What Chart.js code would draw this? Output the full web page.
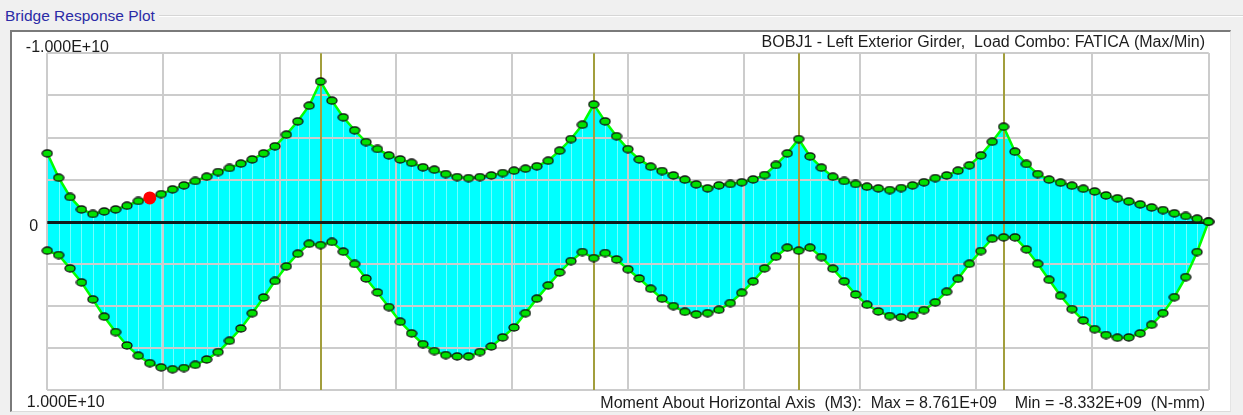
<!DOCTYPE html>
<html>
<head>
<meta charset="utf-8">
<title>Bridge Response Plot</title>
<script src="https://cdn.jsdelivr.net/npm/chart.js@4"></script>
<style>
  body { margin: 0; background: #f0f0f0; width: 1243px; height: 415px; overflow: hidden; position: relative;
         font-family: "Liberation Sans", Arial, sans-serif; }
  #groupLine { position: absolute; left: 4px; right: 0; top: 15px; height: 1px; background: #d6d6d6; border-bottom: 1px solid #fff; }
  #groupTitle { position: absolute; left: 5px; top: 7px; font-size: 15.5px; color: #2b2ba6; background: #f0f0f0; padding-right: 4px; }
  #panel { position: absolute; left: 10px; top: 30px; width: 1218px; height: 379px; background: #fff;
           border-top: 2px solid #7a7a7a; border-left: 2px solid #7a7a7a; border-right: 1px solid #e4e4e4; border-bottom: 1px solid #dcdcdc; }
  #plot { position: absolute; left: 12px; top: 32px; }
</style>
</head>
<body>
<div id="groupLine"></div>
<div id="groupTitle">Bridge Response Plot</div>
<div id="panel"></div>
<canvas id="plot" width="1218" height="383"></canvas>

<script>
// moment envelope along the girder, one value per station, units of 1E+09 N-mm
// (negative moments are drawn upwards, the y axis runs from -1E+10 at top to 1E+10 at bottom)
const minMoment = [
  -4.06, -2.61, -1.47, -0.73, -0.46, -0.61, -0.73, -0.95, -1.23, -1.41,
  -1.64, -1.92, -2.16, -2.42, -2.67, -2.95, -3.19, -3.45, -3.70, -4.06,
  -4.48, -5.17, -5.96, -6.89, -8.332, -7.19, -6.20, -5.43, -4.73, -4.32,
  -3.94, -3.70, -3.50, -3.23, -3.09, -2.83, -2.65, -2.59, -2.65, -2.75,
  -2.89, -3.03, -3.15, -3.29, -3.62, -4.22, -4.91, -5.76, -6.97, -5.96,
  -5.08, -4.31, -3.70, -3.27, -3.01, -2.75, -2.50, -2.22, -1.98, -2.16,
  -2.24, -2.34, -2.51, -2.77, -3.37, -4.06, -4.91, -3.88, -3.21, -2.67,
  -2.42, -2.24, -2.08, -1.98, -1.88, -2.00, -2.16, -2.34, -2.59, -2.75,
  -3.03, -3.35, -3.94, -4.75, -5.64, -4.16, -3.43, -2.83, -2.50, -2.32,
  -2.14, -1.96, -1.80, -1.56, -1.39, -1.21, -1.03, -0.85, -0.69, -0.50,
  -0.34, -0.18, 0
];
const maxMoment = [
  1.72, 1.98, 2.77, 3.60, 4.61, 5.64, 6.55, 7.35, 7.96, 8.40,
  8.65, 8.761, 8.69, 8.50, 8.18, 7.74, 7.07, 6.34, 5.43, 4.50,
  3.52, 2.65, 1.90, 1.31, 1.39, 1.20, 1.78, 2.51, 3.37, 4.20,
  5.07, 5.94, 6.63, 7.27, 7.68, 7.92, 8.00, 8.00, 7.74, 7.41,
  6.87, 6.28, 5.43, 4.57, 3.78, 3.01, 2.34, 1.80, 2.16, 1.86,
  2.24, 2.82, 3.37, 3.98, 4.57, 5.01, 5.35, 5.50, 5.43, 5.23,
  4.83, 4.22, 3.54, 2.77, 2.08, 1.54, 1.72, 1.54, 2.10, 2.79,
  3.54, 4.32, 4.93, 5.33, 5.60, 5.68, 5.58, 5.25, 4.79, 4.16,
  3.39, 2.50, 1.74, 1.01, 0.93, 0.93, 1.64, 2.50, 3.45, 4.40,
  5.19, 5.86, 6.38, 6.73, 6.89, 6.87, 6.63, 6.12, 5.43, 4.48,
  3.29, 1.80, 0
];
const stations = minMoment.map((v, i) => i);   // station index, 0 = left end
const supports = [24, 48, 66, 84];              // interior supports (station index)
const selectedStation = 9;                      // red marker on the negative curve
const xDivisions = 10;
const yTickValues = [-10, 0, 10];
const yTickLabels = ['-1.000E+10', '0', '1.000E+10'];
const titleText = 'BOBJ1 - Left Exterior Girder,  Load Combo: FATICA (Max/Min)';
const footerText = 'Moment About Horizontal Axis  (M3):  Max = 8.761E+09    Min = -8.332E+09  (N-mm)';

const gridColor = '#cccccc';
const textFont = '16px "Liberation Sans", Arial, sans-serif';

// oval green marker with black outline
function makeDot() {
  const c = document.createElement('canvas');
  c.width = 12; c.height = 9;
  const g = c.getContext('2d');
  g.beginPath();
  g.ellipse(6, 4.5, 5, 3.5, 0, 0, Math.PI * 2);
  g.fillStyle = '#00e000';
  g.fill();
  g.lineWidth = 1.3;
  g.strokeStyle = '#101010';
  g.stroke();
  return c;
}
const dot = makeDot();

const decor = {
  id: 'decor',
  beforeDatasetsDraw(chart) {
    const {ctx, chartArea: a, scales: {x, y}} = chart;
    ctx.save();
    // faint station lines inside the filled envelope
    ctx.strokeStyle = 'rgba(255,255,255,0.45)';
    ctx.lineWidth = 1;
    stations.forEach((s, i) => {
      const px = Math.round(x.getPixelForValue(s)) + 0.5;
      ctx.beginPath();
      ctx.moveTo(px, y.getPixelForValue(minMoment[i]));
      ctx.lineTo(px, y.getPixelForValue(maxMoment[i]));
      ctx.stroke();
    });
    // grid over the fill
    ctx.strokeStyle = gridColor;
    ctx.lineWidth = 2;
    x.ticks.forEach(t => {
      const px = Math.round(x.getPixelForValue(t.value));
      ctx.beginPath(); ctx.moveTo(px, a.top); ctx.lineTo(px, a.bottom); ctx.stroke();
    });
    y.ticks.forEach(t => {
      const py = Math.round(y.getPixelForValue(t.value));
      ctx.beginPath(); ctx.moveTo(a.left, py); ctx.lineTo(a.right, py); ctx.stroke();
    });
    // supports
    ctx.strokeStyle = '#a29e3c';
    supports.forEach(s => {
      const px = Math.round(x.getPixelForValue(s));
      ctx.beginPath(); ctx.moveTo(px, a.top); ctx.lineTo(px, a.bottom); ctx.stroke();
    });
    // zero line
    const y0 = Math.round(y.getPixelForValue(0)) + 0.5;
    ctx.strokeStyle = '#0e1c1c';
    ctx.lineWidth = 3;
    ctx.beginPath(); ctx.moveTo(a.left, y0); ctx.lineTo(a.right, y0); ctx.stroke();
    ctx.restore();
  },
  afterDraw(chart) {
    const {ctx, chartArea: a, scales: {y}} = chart;
    ctx.save();
    ctx.font = textFont;
    ctx.fillStyle = '#1c1c1c';
    ctx.textBaseline = 'alphabetic';
    ctx.textAlign = 'left';
    const offs = [-1.5, 9, 17];
    const lefts = [-21.5, -18, -20.5];
    yTickValues.forEach((v, i) => {
      ctx.fillText(yTickLabels[i], a.left + lefts[i], y.getPixelForValue(v) + offs[i]);
    });
    ctx.textAlign = 'right';
    ctx.fillText(titleText, a.right - 3.5, a.top - 6);
    ctx.fillText(footerText, a.right - 3.5, a.bottom + 17.5);
    ctx.restore();
  }
};

new Chart(document.getElementById('plot'), {
  type: 'line',
  data: {
    datasets: [
      {
        label: 'selected',
        data: [{x: stations[selectedStation], y: minMoment[selectedStation]}],
        showLine: false,
        pointStyle: 'circle',
        pointRadius: 6.5,
        pointBackgroundColor: '#ff0000',
        pointBorderWidth: 0,
        clip: false,
        order: 0
      },
      {
        label: 'Min',
        data: stations.map((s, i) => ({x: s, y: minMoment[i]})),
        borderColor: '#00ff00',
        borderWidth: 2.5,
        backgroundColor: '#00ffff',
        fill: 'origin',
        pointStyle: dot,
        pointRadius: 5,
        clip: false,
        order: 1
      },
      {
        label: 'Max',
        data: stations.map((s, i) => ({x: s, y: maxMoment[i]})),
        borderColor: '#00ff00',
        borderWidth: 2.5,
        backgroundColor: '#00ffff',
        fill: 'origin',
        pointStyle: dot,
        pointRadius: 5,
        clip: false,
        order: 1
      }
    ]
  },
  options: {
    responsive: false,
    animation: false,
    events: [],
    layout: { autoPadding: false, padding: { left: 35.3, right: 21.5, top: 21.3, bottom: 24.9 } },
    plugins: {
      legend: { display: false },
      tooltip: { enabled: false },
      filler: { drawTime: 'beforeDatasetsDraw', propagate: false }
    },
    scales: {
      x: {
        type: 'linear',
        min: stations[0],
        max: stations[stations.length - 1],
        afterBuildTicks(axis) {
          const step = (axis.max - axis.min) / xDivisions;
          axis.ticks = [];
          for (let i = 0; i <= xDivisions; i++) axis.ticks.push({value: axis.min + i * step});
        },
        ticks: { display: false },
        grid: { color: gridColor, lineWidth: 2, drawTicks: false },
        border: { display: false }
      },
      y: {
        min: -10,
        max: 10,
        reverse: true,
        ticks: { display: false, stepSize: 2.5 },
        grid: { color: gridColor, lineWidth: 2, drawTicks: false },
        border: { display: false }
      }
    }
  },
  plugins: [decor]
});
</script>
</body>
</html>
